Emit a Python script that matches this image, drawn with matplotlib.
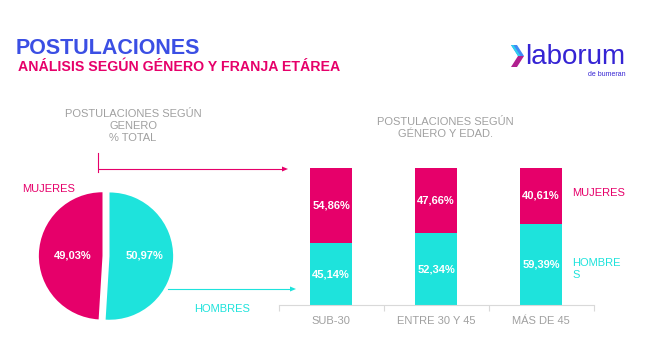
import matplotlib
matplotlib.use("Agg")
import matplotlib.pyplot as plt
from matplotlib.patches import Polygon

plt.rcParams['font.family'] = ['Liberation Sans', 'DejaVu Sans']

# data
pie_labels = ["MUJERES", "HOMBRES"]
pie_values = [49.03, 50.97]
groups = ["SUB-30", "ENTRE 30 Y 45", "MÁS DE 45"]
hombres = [45.14, 52.34, 59.39]
mujeres = [54.86, 47.66, 40.61]

PINK = "#e6006a"
CYAN = "#1ee3dc"
BLUE = "#3b4fe4"
GRAY = "#a0a0a0"

W, H = 650, 354
fig = plt.figure(figsize=(W / 100, H / 100), dpi=100)

def fx(x):
    return x / W

def fy(y):
    return 1 - y / H

def pct(v):
    return ("%.2f%%" % v).replace(".", ",")

def fig_poly(pts, color):
    fig.patches.append(Polygon([(fx(x), fy(y)) for x, y in pts], closed=True,
                               transform=fig.transFigure, color=color, lw=0))

# titles
fig.text(fx(16), fy(49), "POSTULACIONES", color=BLUE, fontsize=15.5,
         fontweight="bold", va="center", ha="left")
fig.text(fx(18), fy(67), "ANÁLISIS SEGÚN GÉNERO Y FRANJA ETÁREA", color=PINK,
         fontsize=10.2, fontweight="bold", va="center", ha="left")

# logo
fig_poly([(511, 45), (517, 45), (524, 56), (518, 56)], "#3f8af5")
fig_poly([(518, 56), (524, 56), (517, 67), (511, 67)], "#b0208f")
fig_poly([(511, 45), (513.5, 45), (520.5, 56), (518, 56)], "#2fd0ee")
fig.text(fx(525), fy(57), "laborum", color="#3524d4", fontsize=20,
         va="center", ha="left")
fig.text(fx(626), fy(75), "de bumeran", color="#3524d4", fontsize=5,
         va="center", ha="right")

# pie
axp = fig.add_axes([fx(36), fy(326), 140 / W, 140 / H])
wedges, _ = axp.pie(pie_values, colors=[PINK, CYAN], startangle=90,
                    explode=[0.055, 0.055], radius=1)
axp.set_xlim(-1.1, 1.1)
axp.set_ylim(-1.1, 1.1)
axp.set_aspect("equal")
axp.axis("off")
axp.text(-0.52, 0.0, pct(pie_values[0]), color="white", fontsize=8,
         fontweight="bold", ha="center", va="center")
axp.text(0.6, 0.0, pct(pie_values[1]), color="white", fontsize=8,
         fontweight="bold", ha="center", va="center")

fig.text(fx(22), fy(189), pie_labels[0], color=PINK, fontsize=8,
         va="center", ha="left")
fig.text(fx(194), fy(309), pie_labels[1], color=CYAN, fontsize=8,
         va="center", ha="left")
fig.text(fx(133), fy(126), "POSTULACIONES SEGÚN\nGENERO\n% TOTAL", color=GRAY,
         fontsize=8, va="center", ha="center", linespacing=1.2)

# arrows
fig.add_artist(plt.Line2D([fx(98), fx(98)], [fy(153), fy(172)], color=PINK, lw=0.8))
fig.add_artist(plt.Line2D([fx(99), fx(282)], [fy(169), fy(169)], color=PINK, lw=0.8))
fig_poly([(282, 166.5), (288, 169), (282, 171.5)], PINK)
fig.add_artist(plt.Line2D([fx(168), fx(290)], [fy(289), fy(289)], color=CYAN, lw=0.8))
fig_poly([(290, 286.5), (296, 289), (290, 291.5)], CYAN)

# stacked bars
axb = fig.add_axes([fx(278.5), fy(305), 315 / W, 137 / H])
xs = list(range(len(groups)))
axb.bar(xs, hombres, width=0.4, color=CYAN)
axb.bar(xs, mujeres, width=0.4, bottom=hombres, color=PINK)
for i in xs:
    axb.text(i, hombres[i] / 2, pct(hombres[i]), color="white", fontsize=8,
             fontweight="bold", ha="center", va="center")
    axb.text(i, hombres[i] + mujeres[i] / 2, pct(mujeres[i]), color="white",
             fontsize=8, fontweight="bold", ha="center", va="center")
axb.set_xlim(-0.5, 2.5)
axb.set_ylim(0, 100)
axb.set_yticks([])
axb.set_xticks(xs)
axb.set_xticklabels(groups, color=GRAY, fontsize=8)
axb.set_xticks([-0.5, 0.5, 1.5, 2.5], minor=True)
axb.tick_params(axis="x", which="major", length=0, pad=8)
axb.tick_params(axis="x", which="minor", length=4, color="#d9d9d9", width=0.8)
for s in ["top", "right", "left"]:
    axb.spines[s].set_visible(False)
axb.spines["bottom"].set_color("#d9d9d9")
axb.spines["bottom"].set_linewidth(0.8)
axb.patch.set_alpha(0)

fig.text(fx(445), fy(128), "POSTULACIONES SEGÚN\nGÉNERO Y EDAD.", color=GRAY,
         fontsize=8, va="center", ha="center", linespacing=1.2)
fig.text(fx(572), fy(193), "MUJERES", color=PINK, fontsize=8, va="center", ha="left")
fig.text(fx(572), fy(269), "HOMBRE\nS", color=CYAN, fontsize=8, va="center",
         ha="left", linespacing=1.3)

fig.savefig("out.png", dpi=100, facecolor="white")
